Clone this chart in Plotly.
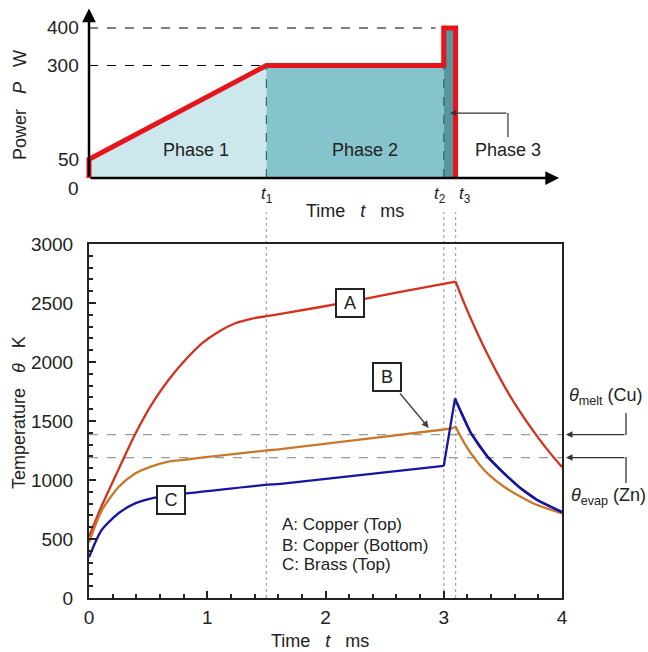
import plotly.graph_objects as go

# ---------------- data ----------------
# Top panel: laser power profile
power_t = [0, 0, 1.5, 3.0, 3.0, 3.1, 3.1]
power_W = [0, 50, 300, 300, 400, 400, 0]
phase1_t = [0, 0, 1.5, 1.5]
phase1_W = [0, 50, 300, 0]
phase2_t = [1.5, 1.5, 3.0, 3.0]
phase2_W = [0, 300, 300, 0]
phase3_t = [3.0, 3.0, 3.1, 3.1]
phase3_W = [0, 400, 400, 0]
power_ticks = [0, 50, 300, 400]
phase_times = [1.5, 3.0, 3.1]
phase_time_labels = ["<i>t</i><sub>1</sub>", "<i>t</i><sub>2</sub>", "<i>t</i><sub>3</sub>"]
phase_names = ["Phase 1", "Phase 2", "Phase 3"]

# Bottom panel: temperatures (K) vs time (ms); heating part and cooling part
tA_heat = [0.0, 0.107, 0.25, 0.39, 0.53, 0.672, 0.814, 0.955, 1.096, 1.237, 1.38, 1.5, 1.62,
           2.2, 2.6, 3.1]
TA_heat = [520, 780, 1090, 1387, 1640, 1847, 2017, 2158, 2257, 2328, 2368, 2388, 2407,
           2510, 2588, 2682]
tA_cool = [3.1, 3.17, 3.23, 3.37, 3.51, 3.65, 3.79, 3.91, 4.0]
TA_cool = [2682, 2505, 2365, 2065, 1800, 1570, 1370, 1215, 1110]

tB_heat = [0.0, 0.107, 0.25, 0.39, 0.53, 0.67, 0.8, 0.95, 1.49, 1.62, 3.0, 3.08]
TB_heat = [470, 740, 940, 1055, 1115, 1155, 1170, 1190, 1249, 1262, 1428, 1440]
tB_cool = [3.08, 3.1, 3.12, 3.23, 3.37, 3.51, 3.65, 3.79, 4.0]
TB_cool = [1440, 1452, 1410, 1226, 1056, 943, 859, 788, 718]

tC_heat = [0.0, 0.107, 0.25, 0.39, 0.53, 0.7, 1.49, 1.62, 3.0]
TC_heat = [345, 576, 718, 802, 845, 872, 958, 968, 1119]
tC_cool = [3.0, 3.095, 3.23, 3.37, 3.51, 3.65, 3.79, 4.0]
TC_cool = [1119, 1690, 1396, 1198, 1056, 930, 831, 728]

theta_melt_Cu = 1385
theta_evap_Zn = 1190
legend_lines = ["A: Copper (Top)", "B: Copper (Bottom)", "C: Brass (Top)"]
curve_tags = ["A", "B", "C"]

# ---------------- geometry helpers ----------------
FW, FH = 648, 652
ML, MR, MT, MB = 80, 80, 8, 54
PW, PH = FW - ML - MR, FH - MT - MB


def pxx(px):
    return (px - ML) / PW


def pxy(py):
    return (FH - MB - py) / PH


FONT = "Liberation Sans, Arial, sans-serif"
NB = "\u00a0"
RED = "#e8141c"
cA, cB, cC = "#d3321f", "#c8782a", "#16169e"

fig = go.Figure()

# ---- top panel traces ----
for tx, wy, col in [(phase1_t, phase1_W, "#cce8ec"), (phase2_t, phase2_W, "#86c4cd"),
                    (phase3_t, phase3_W, "#54979f")]:
    fig.add_trace(go.Scatter(x=tx, y=wy, fill="toself", fillcolor=col, line=dict(width=0),
                             mode="lines", xaxis="x2", yaxis="y2", hoverinfo="skip"))
fig.add_trace(go.Scatter(x=power_t, y=power_W, mode="lines", line=dict(color=RED, width=5),
                         xaxis="x2", yaxis="y2", hoverinfo="skip"))

# ---- bottom panel traces ----
for tx, ty, col, shp in [(tA_heat, TA_heat, cA, "spline"), (tA_cool, TA_cool, cA, "spline"),
                         (tB_heat, TB_heat, cB, "spline"), (tB_cool, TB_cool, cB, "spline"),
                         (tC_heat, TC_heat, cC, "spline"), (tC_cool, TC_cool, cC, "linear")]:
    fig.add_trace(go.Scatter(x=tx, y=ty, mode="lines",
                             line=dict(color=col, width=2.3, shape=shp, smoothing=0.7)))
# smooth decay part of C (after the peak)
fig.add_trace(go.Scatter(x=tC_cool[1:], y=TC_cool[1:], mode="lines",
                         line=dict(color=cC, width=2.3, shape="spline", smoothing=0.7)))

shapes = []
annotations = []

# top panel dashed guides
shapes.append(dict(type="line", xref="x2", yref="y2", x0=0, x1=2.93, y0=power_W[4], y1=power_W[4],
                   line=dict(color="black", width=1, dash="dash")))
shapes.append(dict(type="line", xref="x2", yref="y2", x0=0, x1=phase_times[0], y0=power_W[2], y1=power_W[2],
                   line=dict(color="black", width=1, dash="dash")))
for tt in phase_times[:2]:
    shapes.append(dict(type="line", xref="x2", yref="y2", x0=tt, x1=tt, y0=0, y1=power_W[2],
                       line=dict(color="#2d6870", width=1.2, dash="dash")))
# Phase 3 connector vertical part
shapes.append(dict(type="line", xref="x2", yref="y2", x0=3.543, x1=3.543, y0=109, y1=173,
                   line=dict(color="#333333", width=1.2)))

# vertical dotted lines through both panels
for tt in phase_times:
    shapes.append(dict(type="line", xref="x", yref="paper", x0=tt, x1=tt, y0=0, y1=pxy(212),
                       line=dict(color="#a8a8a8", width=1.3, dash="dot"), layer="below"))

# horizontal dashed temperature thresholds
for th in [theta_melt_Cu, theta_evap_Zn]:
    shapes.append(dict(type="line", xref="x", yref="y", x0=0, x1=4, y0=th, y1=th,
                       line=dict(color="#9a9a9a", width=1.2, dash="dash"), layer="below"))

# right side connectors (vertical parts)
shapes.append(dict(type="line", xref="paper", yref="paper", x0=pxx(626), x1=pxx(626), y0=pxy(413), y1=pxy(435),
                   line=dict(color="#333333", width=1.3)))
shapes.append(dict(type="line", xref="paper", yref="paper", x0=pxx(626), x1=pxx(626), y0=pxy(457), y1=pxy(483),
                   line=dict(color="#333333", width=1.3)))

# top panel axis arrows
annotations.append(dict(xref="x2", yref="y2", axref="x2", ayref="y2", x=0, y=452, ax=0, ay=0, text="",
                        showarrow=True, arrowhead=2, arrowsize=1.1, arrowwidth=2.5, arrowcolor="black", standoff=0))
annotations.append(dict(xref="x2", yref="y2", axref="x2", ayref="y2", x=3.975, y=0, ax=0, ay=0, text="",
                        showarrow=True, arrowhead=2, arrowsize=1.1, arrowwidth=2.5, arrowcolor="black", standoff=0))

# top panel tick labels
for v in power_ticks:
    annotations.append(dict(xref="paper", yref="y2", x=pxx(81), y=v, text=str(v), showarrow=False,
                            xanchor="right", yanchor="middle", yshift=-10 if v == 0 else 0,
                            font=dict(family=FONT, size=19, color="#222")))
# t1, t2, t3 labels
for tt, lab, dx in zip(phase_times, phase_time_labels, [1, -4, 9]):
    annotations.append(dict(xref="x2", yref="paper", x=tt, y=pxy(195), text=lab, showarrow=False,
                            xanchor="center", yanchor="middle", xshift=dx,
                            font=dict(family=FONT, size=17, color="#222")))
# Phase labels
for name, xx, yy in zip(phase_names, [0.905, 2.334, 3.543], [75, 75, 75]):
    annotations.append(dict(xref="x2", yref="y2", x=xx, y=yy, text=name, showarrow=False,
                            xanchor="center", yanchor="middle",
                            font=dict(family=FONT, size=18, color="#222")))
# Phase 3 arrow
annotations.append(dict(xref="x2", yref="y2", axref="x2", ayref="y2", x=3.053, y=173, ax=3.543, ay=173,
                        text="", showarrow=True, arrowhead=2, arrowsize=1, arrowwidth=1.2,
                        arrowcolor="#333333", standoff=0))
# top axis titles
annotations.append(dict(xref="paper", yref="paper", x=pxx(355), y=pxy(211), xanchor="center", yanchor="middle",
                        text="Time" + NB * 3 + "<i>t</i>" + NB * 3 + "ms", showarrow=False,
                        font=dict(family=FONT, size=18, color="#222")))
annotations.append(dict(xref="paper", yref="paper", x=pxx(20), y=pxy(105), textangle=-90,
                        xanchor="center", yanchor="middle",
                        text="Power" + NB * 3 + "<i>P</i>" + NB * 3 + "W", showarrow=False,
                        font=dict(family=FONT, size=18, color="#222")))

# bottom axis titles
annotations.append(dict(xref="paper", yref="paper", x=pxx(320), y=pxy(641), xanchor="center", yanchor="middle",
                        text="Time" + NB * 3 + "<i>t</i>" + NB * 3 + "ms", showarrow=False,
                        font=dict(family=FONT, size=18, color="#222")))
annotations.append(dict(xref="paper", yref="paper", x=pxx(19), y=pxy(413), textangle=-90,
                        xanchor="center", yanchor="middle",
                        text="Temperature" + NB * 3 + "<i>θ</i>" + NB * 3 + "K", showarrow=False,
                        font=dict(family=FONT, size=18, color="#222")))

# curve tag boxes
for tag, xx, yy in zip(curve_tags, [2.207, 2.52, 0.695], [2500, 1873, 830]):
    annotations.append(dict(xref="x", yref="y", x=xx, y=yy, text=tag, showarrow=False,
                            xanchor="center", yanchor="middle",
                            bordercolor="#222", borderwidth=2, bgcolor="white", width=24, height=24,
                            font=dict(family=FONT, size=18, color="#222")))
# B arrow
annotations.append(dict(xref="x", yref="y", axref="x", ayref="y", x=2.873, y=1441, ax=2.62, ay=1746,
                        text="", showarrow=True, arrowhead=2, arrowsize=1, arrowwidth=1.4,
                        arrowcolor="#444444", standoff=0))
# legend text
for line, yy in zip(legend_lines, [627, 449, 280]):
    annotations.append(dict(xref="x", yref="y", x=1.615, y=yy, text=line, showarrow=False,
                            xanchor="left", yanchor="middle", font=dict(family=FONT, size=17, color="#222")))

# threshold labels and arrows
annotations.append(dict(xref="paper", yref="paper", x=pxx(606), y=pxy(397), xanchor="center", yanchor="middle",
                        text="<i>θ</i><sub>melt</sub> (Cu)", showarrow=False,
                        font=dict(family=FONT, size=18, color="#222")))
annotations.append(dict(xref="paper", yref="paper", x=pxx(608), y=pxy(496), xanchor="center", yanchor="middle",
                        text="<i>θ</i><sub>evap</sub> (Zn)", showarrow=False,
                        font=dict(family=FONT, size=18, color="#222")))
for th in [theta_melt_Cu, theta_evap_Zn]:
    annotations.append(dict(xref="paper", yref="y", axref="pixel", ayref="pixel", x=pxx(566), y=th,
                            ax=60, ay=0, text="", showarrow=True, arrowhead=2, arrowsize=1, arrowwidth=1.3,
                            arrowcolor="#333333", standoff=0))

x_lo = (ML - 89) / 118.25
x_hi = (FW - MR - 89) / 118.25

fig.update_layout(
    template="none",
    width=FW, height=FH,
    margin=dict(l=ML, r=MR, t=MT, b=MB, pad=0, autoexpand=False),
    paper_bgcolor="white", plot_bgcolor="rgba(0,0,0,0)",
    showlegend=False,
    font=dict(family=FONT, size=19, color="#222"),
    xaxis=dict(domain=[pxx(89), pxx(562)], range=[0, 4], anchor="y", automargin=False,
               tickvals=[0, 1, 2, 3, 4], ticks="inside", ticklen=7, tickwidth=1.5, tickcolor="#222",
               minor=dict(dtick=0.2, ticks="inside", ticklen=4, tickwidth=1.5, tickcolor="#222", showgrid=False),
               showline=True, linecolor="#222", linewidth=2, mirror=True, showgrid=False, zeroline=False,
               tickfont=dict(size=19), ticklabelstandoff=1),
    yaxis=dict(domain=[0, pxy(244)], range=[0, 3000], anchor="x", automargin=False,
               tickvals=[0, 500, 1000, 1500, 2000, 2500, 3000], ticks="inside", ticklen=7, tickwidth=1.5,
               tickcolor="#222",
               minor=dict(dtick=100, ticks="inside", ticklen=4, tickwidth=1.5, tickcolor="#222", showgrid=False),
               showline=True, linecolor="#222", linewidth=2, mirror=True, showgrid=False, zeroline=False,
               tickfont=dict(size=19), ticklabelstandoff=10),
    xaxis2=dict(domain=[0, 1], range=[x_lo, x_hi], anchor="y2", visible=False, showgrid=False),
    yaxis2=dict(domain=[pxy(184), 1], range=[-16, 453.3], anchor="x2", visible=False, showgrid=False),
    shapes=shapes,
    annotations=annotations,
)

fig.write_html("out.html")
